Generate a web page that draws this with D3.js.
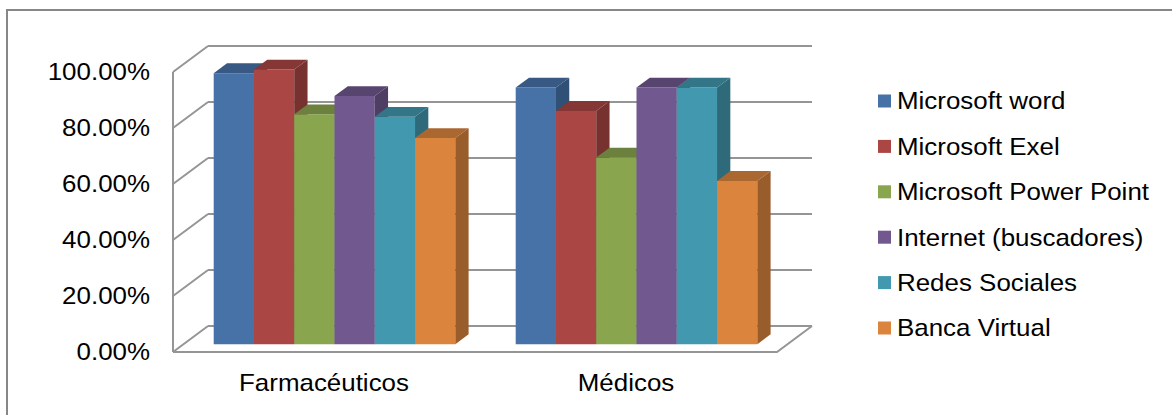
<!DOCTYPE html>
<html><head><meta charset="utf-8">
<script src="https://cdn.jsdelivr.net/npm/d3@7"></script>
<style>
html,body{margin:0;padding:0;background:#fff;}
text{font-family:"Liberation Sans",Arial,sans-serif;fill:#000;}
</style></head>
<body>
<svg id="chart" width="1172" height="415"></svg>
<script>
const categories = ["Farmacéuticos", "Médicos"];
const seriesNames = ["Microsoft word", "Microsoft Exel", "Microsoft Power Point", "Internet (buscadores)", "Redes Sociales", "Banca Virtual"];
const wordValues = [0.968, 0.9167];
const exelValues = [0.981, 0.8333];
const powerPointValues = [0.821, 0.6667];
const internetValues = [0.886, 0.9167];
const redesValues = [0.812, 0.9167];
const bancaValues = [0.736, 0.5833];
const yTicks = [0, 0.2, 0.4, 0.6, 0.8, 1.0];
const colors = ["#4672A8", "#AA4643", "#89A54E", "#71588F", "#4198AF", "#DB843D"];

const seriesValues = [wordValues, exelValues, powerPointValues, internetValues, redesValues, bancaValues];

const svg = d3.select("#chart");
const SX = 1.08; // horizontal text stretch seen in the reference
function label(sel, x, y, anchor) {
  return sel.attr("transform", (d, i) => `translate(${typeof x === "function" ? x(d, i) : x},${typeof y === "function" ? y(d, i) : y}) scale(${SX},1)`)
    .attr("dy", "0.35em").attr("text-anchor", anchor).style("font-size", "24px");
}

// outer frame
svg.append("rect").attr("x", 7).attr("y", 10).attr("width", 1190).attr("height", 430)
  .attr("fill", "none").attr("stroke", "#878787").attr("stroke-width", 2);

const left = 173, right = 777, floorY = 352, topY = 72;
const DX = 35, DY = -26;           // wall depth
const fz = 0.3, bz = 0.68;          // bar depth range (fraction)
const y = d3.scaleLinear().domain([0, 1]).range([floorY, topY]);
const x0 = d3.scaleBand().domain(categories).range([left, right]).paddingInner(0.2).paddingOuter(0.1);
const x1 = d3.scaleBand().domain(seriesNames).range([0, x0.bandwidth()]);

const grid = "#959595";
const g = svg.append("g");
yTicks.forEach(t => {
  const yy = y(t);
  g.append("line").attr("x1", left + DX).attr("x2", right + DX).attr("y1", yy + DY).attr("y2", yy + DY)
    .attr("stroke", grid).attr("stroke-width", 2);
  g.append("line").attr("x1", left).attr("x2", left + DX).attr("y1", yy).attr("y2", yy + DY)
    .attr("stroke", grid).attr("stroke-width", 2);
});
g.append("line").attr("x1", left).attr("x2", left).attr("y1", y(1)).attr("y2", floorY)
  .attr("stroke", grid).attr("stroke-width", 2);
g.append("polyline").attr("points", `${left},${floorY} ${right},${floorY} ${right + DX},${floorY + DY}`)
  .attr("fill", "none").attr("stroke", grid).attr("stroke-width", 2);

// y labels
label(svg.append("g").selectAll("text").data(yTicks).join("text"), 150, d => y(d), "end")
  .text(d => d3.format(".2%")(d));

// bars
const sx = DX * fz, sy = DY * fz;
const bdx = DX * (bz - fz), bdy = DY * (bz - fz);
const bars = svg.append("g");
categories.forEach((cat, ci) => {
  seriesNames.forEach((s, si) => {
    const v = seriesValues[si][ci];
    const c = d3.color(colors[si]);
    const xl = x0(cat) + x1(s) + sx, xr = xl + x1.bandwidth();
    const yt = y(v) + sy, yb = y(0) + sy;
    bars.append("polygon")
      .attr("points", `${xl},${yt} ${xr},${yt} ${xr},${yb} ${xl},${yb}`)
      .attr("fill", colors[si]);
    bars.append("polygon")
      .attr("points", `${xl},${yt} ${xr},${yt} ${xr + bdx},${yt + bdy} ${xl + bdx},${yt + bdy}`)
      .attr("fill", c.darker(0.7));
    bars.append("polygon")
      .attr("points", `${xr},${yt} ${xr + bdx},${yt + bdy} ${xr + bdx},${yb + bdy} ${xr},${yb}`)
      .attr("fill", c.darker(1.0));
  });
});

// category labels
label(svg.append("g").selectAll("text").data(categories).join("text"), d => x0(d) + x0.bandwidth() / 2, 383, "middle")
  .text(d => d);

// legend
const legend = svg.append("g");
const legendY = d3.scaleLinear().domain([0, seriesNames.length - 1]).range([101, 328]);
legend.selectAll("rect").data(seriesNames).join("rect")
  .attr("x", 878).attr("y", (d, i) => legendY(i) - 6.5).attr("width", 13).attr("height", 13)
  .attr("fill", (d, i) => colors[i]);
label(legend.selectAll("text").data(seriesNames).join("text"), 897, (d, i) => legendY(i), "start")
  .text(d => d);
</script>
</body></html>
